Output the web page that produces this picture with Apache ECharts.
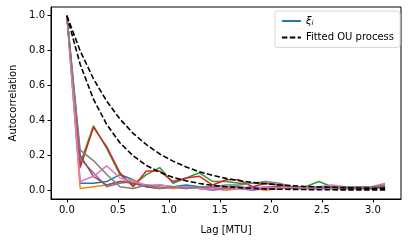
<!DOCTYPE html>
<html><head><meta charset="utf-8">
<script src="https://cdn.jsdelivr.net/npm/echarts@6/dist/echarts.min.js"></script>
<style>html,body{margin:0;padding:0;background:#fff}#c{width:409px;height:242px}</style>
</head><body><div id="c"></div>
<script>
const lags = [0,0.13,0.26,0.39,0.52,0.65,0.78,0.91,1.04,1.17,1.30,1.43,1.56,1.69,1.82,1.95,2.08,2.21,2.34,2.47,2.60,2.73,2.86,2.99,3.12];
const blue   = [1,0.04,0.04,0.05,0.09,0.06,0.02,0.03,0.02,0.03,0.02,0.02,0.01,0.01,0.02,0.01,0.01,0.02,0.01,0.01,0.02,0.01,0.01,0.02,0.02];
const orange = [1,0.01,0.02,0.03,0.05,0.06,0.02,0.02,0.01,0.02,0.01,0.01,0.00,0.01,0.01,0.00,0.01,0.02,0.01,0.01,0.01,0.01,0.02,0.02,0.03];
const green  = [1,0.15,0.37,0.24,0.09,0.03,0.09,0.13,0.04,0.07,0.10,0.05,0.05,0.04,0.04,0.04,0.03,0.02,0.02,0.05,0.02,0.02,0.01,0.02,0.02];
const red    = [1,0.13,0.36,0.25,0.10,0.02,0.11,0.11,0.05,0.07,0.08,0.03,0.06,0.06,0.02,0.04,0.03,0.02,0.01,0.02,0.01,0.02,0.01,0.01,0.02];
const purple = [1,0.18,0.10,0.02,0.04,0.05,0.02,0.01,0.02,0.02,0.01,0.00,0.01,0.01,0.00,0.01,0.01,0.02,0.02,0.01,0.01,0.01,0.02,0.01,0.02];
const brown  = [1,0.20,0.08,0.03,0.05,0.04,0.02,0.01,0.02,0.01,0.02,0.01,0.02,0.02,0.01,0.02,0.02,0.01,0.01,0.02,0.02,0.01,0.01,0.01,0.02];
const pink   = [1,0.05,0.08,0.14,0.07,0.05,0.03,0.03,0.02,0.02,0.01,0.01,0.02,0.01,0.01,0.02,0.01,0.02,0.01,0.02,0.03,0.02,0.02,0.02,0.04];
const gray   = [1,0.23,0.17,0.09,0.02,0.01,0.03,0.01,0.02,0.01,0.02,0.02,0.03,0.03,0.04,0.05,0.04,0.02,0.02,0.02,0.01,0.02,0.02,0.02,0.03];
const ouSlow = [1,0.799,0.639,0.511,0.408,0.326,0.261,0.208,0.167,0.133,0.106,0.085,0.068,0.055,0.045,0.037,0.031,0.026,0.022,0.019,0.017,0.015,0.013,0.012,0.011];
const ouFast = [1,0.722,0.522,0.377,0.272,0.197,0.142,0.103,0.074,0.054,0.039,0.028,0.020,0.015,0.011,0.008,0.006,0.005,0.004,0.003,0.003,0.002,0.002,0.002,0.002];
const xTicks = [0,0.5,1.0,1.5,2.0,2.5,3.0];
const yTicks = [0,0.2,0.4,0.6,0.8,1.0];

const colored = [
  ['xi', blue, '#1f77b4'], ['s2', orange, '#ff7f0e'], ['s3', green, '#2ca02c'],
  ['s4', red, '#d62728'], ['s5', purple, '#9467bd'], ['s6', brown, '#8c564b'],
  ['s7', pink, '#e377c2'], ['s8', gray, '#7f7f7f']
];
const pair = arr => lags.map((x, i) => [x, arr[i]]);
const series = colored.map(([n, d, c]) => ({
  name: n, type: 'line', data: pair(d), symbol: 'none', silent: true,
  lineStyle: {color: c, width: 1.5}, itemStyle: {color: c}
}));
[ouSlow, ouFast].forEach(d => series.push({
  name: 'Fitted OU process', type: 'line', data: pair(d), symbol: 'none', silent: true,
  lineStyle: {color: '#000', width: 1.6, type: [5.5, 2.4]}, itemStyle: {color: '#000'}
}));

const font = 'DejaVu Sans';
const chart = echarts.init(document.getElementById('c'), null, {renderer: 'canvas'});
chart.setOption({
  animation: false,
  textStyle: {fontFamily: font},
  grid: {left: 50, right: 8, top: 7, bottom: 43, show: true, borderColor: '#000', borderWidth: 1, containLabel: false},
  xAxis: {
    type: 'value', min: -0.156, max: 3.276,
    name: 'Lag [MTU]', nameLocation: 'middle', nameGap: 26,
    nameTextStyle: {color: '#000', fontSize: 10, fontFamily: font},
    axisLine: {show: true, onZero: false, lineStyle: {color: '#000', width: 1}},
    axisTick: {show: true, inside: false, length: 3.5, lineStyle: {color: '#000'}, customValues: xTicks},
    axisLabel: {color: '#000', fontSize: 10, fontFamily: font, margin: 6, customValues: xTicks, formatter: v => v.toFixed(1)},
    splitLine: {show: false}
  },
  yAxis: {
    type: 'value', min: -0.05, max: 1.05,
    name: 'Autocorrelation', nameLocation: 'middle', nameGap: 33, nameRotate: 90,
    nameTextStyle: {color: '#000', fontSize: 10, fontFamily: font},
    axisLine: {show: true, onZero: false, lineStyle: {color: '#000', width: 1}},
    axisTick: {show: true, inside: false, length: 3.5, lineStyle: {color: '#000'}, customValues: yTicks},
    axisLabel: {color: '#000', fontSize: 10, fontFamily: font, margin: 6, customValues: yTicks, formatter: v => v.toFixed(1)},
    splitLine: {show: false}
  },
  legend: {
    data: ['xi', 'Fitted OU process'], orient: 'vertical', right: 9, top: 11,
    itemWidth: 19, itemHeight: 8, itemGap: 6, padding: [5, 6, 5, 6],
    itemStyle: {opacity: 0},
    backgroundColor: 'rgba(255,255,255,0.8)', borderColor: '#d8d8d8', borderWidth: 1, borderRadius: 3,
    formatter: n => n === 'xi' ? '{x|ξ}{s|i}' : n,
    textStyle: {color: '#000', fontSize: 10, fontFamily: font,
      rich: {x: {fontStyle: 'italic', fontSize: 10, fontFamily: font}, s: {fontStyle: 'italic', fontSize: 7, fontFamily: font, verticalAlign: 'bottom', padding: [4, 0, 0, 0]}}}
  },
  series: series
});
</script></body></html>
